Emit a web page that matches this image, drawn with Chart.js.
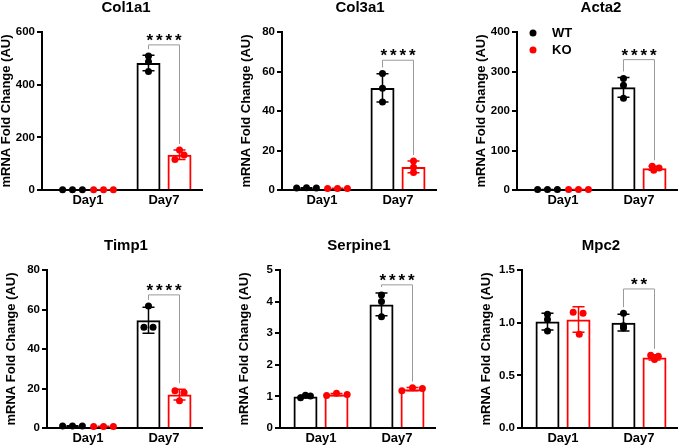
<!DOCTYPE html>
<html>
<head>
<meta charset="utf-8">
<script src="https://cdn.jsdelivr.net/npm/chart.js@4.4.0/dist/chart.umd.min.js"></script>
<style>
  html, body { margin: 0; padding: 0; background: #fff; overflow: hidden; }
  #wrap { position: relative; width: 682px; height: 448px; }
  #wrap canvas { position: absolute; }
</style>
</head>
<body>
<div id="wrap"></div>
<script>
// ---- data ----
const categories = ['Day1', 'Day7'];
const seriesNames = ['WT', 'KO'];
const genes = ['Col1a1', 'Col3a1', 'Acta2', 'Timp1', 'Serpine1', 'Mpc2'];
const yMax = [600, 80, 400, 80, 5, 1.5];
const yStep = [200, 20, 100, 20, 1, 0.5];

// bar height (mean) and SD per gene, [Day1, Day7]
const wtMean = [[1, 482], [1.0, 51.7], [1, 260], [1.0, 54.6], [1.00, 3.91], [1.01, 1.00]];
const wtSd   = [[0.1, 29.6], [0.1, 7.2], [0.1, 25], [0.1, 6.6], [0.04, 0.36], [0.08, 0.08]];
const koMean = [[1, 134], [0.8, 11.7], [1, 55], [0.8, 16.9], [1.06, 1.23], [1.03, 0.67]];
const koSd   = [[0.1, 18], [0.1, 3.0], [0.1, 5], [0.1, 2.7], [0.035, 0.05], [0.12, 0.025]];

// replicates, [Day1, Day7]
const wtPoints = [
  [[1, 1, 1], [509, 487, 450]],
  [[1.0, 1.1, 1.0], [59, 51.5, 44.6]],
  [[1, 1, 1], [282, 265, 232]],
  [[1.0, 1.0, 1.0], [61.8, 51.0, 51.0]],
  [[0.96, 1.04, 1.01], [4.21, 4.0, 3.52]],
  [[1.08, 1.03, 0.92], [1.09, 0.97, 0.95]]
];
const koPoints = [
  [[1, 1, 1], [152, 133, 116]],
  [[0.7, 0.8, 0.8], [14.7, 11.5, 8.8]],
  [[1, 1, 1], [60, 56, 50]],
  [[0.8, 0.8, 0.8], [18.9, 18.0, 13.8]],
  [[1.03, 1.10, 1.06], [1.18, 1.27, 1.25]],
  [[1.10, 1.09, 0.89], [0.69, 0.68, 0.65]]
];
const sigText = ['****', '****', '****', '****', '****', '**'];
const sigLevel = [551, 65.7, 330, 67.4, 4.53, 1.32];

// ---- layout ----
const FONT = "'Liberation Sans', Arial, sans-serif";
const RED = '#ff0000';
const axisLeft = [42, 282, 517, 47, 280, 522];
const day1Px = [88, 322, 563, 88, 321, 563];
const rowTop = [0, 0, 0, 238, 238, 238];
const UNIT = 76, AREA_TOP = 32, AREA_H = 158, XAXIS_H = 30, YAXIS_W = 43, PAD_R = 4;
const catPct = 0.816, barPct = 0.774;
// horizontal spread of the dots (x units), [Day1, Day7]
const wtJitter = [
  [[-0.13, 0, 0.13], [0, 0, 0]],
  [[-0.13, 0, 0.13], [0, 0, 0]],
  [[-0.13, 0, 0.13], [0, 0, 0]],
  [[-0.13, 0, 0.13], [0, -0.06, 0.06]],
  [[-0.065, 0, 0.065], [0, 0, 0]],
  [[0, 0, 0], [0, 0, 0]]
];
const koJitter = [
  [[-0.13, 0, 0.13], [0, 0.06, -0.06]],
  [[-0.13, 0, 0.13], [0, 0, 0]],
  [[-0.13, 0, 0.13], [-0.03, 0.06, -0.01]],
  [[-0.13, 0, 0.13], [-0.06, 0.06, 0]],
  [[-0.13, 0, 0.14], [-0.14, 0, 0.13]],
  [[-0.07, 0.06, 0.01], [-0.05, 0.05, 0]]
];

Chart.defaults.font.family = FONT;
Chart.defaults.color = '#000';

function scatterSet(label, pts, jit, sign, color) {
  const data = [];
  categories.forEach(function(c, d) {
    pts[d].forEach(function(v, k) {
      data.push({ x: d + sign * catPct / 4 + jit[d][k], y: v });
    });
  });
  return { type: 'scatter', label: label, data: data, backgroundColor: color, borderWidth: 0,
           pointRadius: 3.5, clip: false, order: 1 };
}

function extrasPlugin(p) {
  return {
    id: 'extras' + p,
    afterDraw: function(chart) {
      const ctx = chart.ctx, area = chart.chartArea;
      const xs = chart.scales.x, ys = chart.scales.y;
      ctx.save();
      // title
      ctx.fillStyle = '#000';
      ctx.font = 'bold 15px ' + FONT;
      ctx.textAlign = 'center';
      ctx.textBaseline = 'middle';
      ctx.fillText(genes[p], (xs.getPixelForValue(0) + xs.getPixelForValue(1)) / 2, area.top - 24);

      // error bars
      [[0, wtMean, wtSd, '#000'], [1, koMean, koSd, RED]].forEach(function(e) {
        const meta = chart.getDatasetMeta(e[0]);
        meta.data.forEach(function(bar, d) {
          const m = e[1][p][d], s = e[2][p][d];
          const t = ys.getPixelForValue(m + s), b = ys.getPixelForValue(m - s);
          ctx.strokeStyle = e[3];
          ctx.lineWidth = 1.5;
          ctx.beginPath();
          ctx.moveTo(bar.x, t); ctx.lineTo(bar.x, b);
          ctx.moveTo(bar.x - 6, t); ctx.lineTo(bar.x + 6, t);
          ctx.moveTo(bar.x - 6, b); ctx.lineTo(bar.x + 6, b);
          ctx.stroke();
        });
      });

      // significance bracket on Day7
      const wb = chart.getDatasetMeta(0).data[1], kb = chart.getDatasetMeta(1).data[1];
      const yb = ys.getPixelForValue(sigLevel[p]);
      const wTop = Math.max(wtMean[p][1] + wtSd[p][1], Math.max.apply(null, wtPoints[p][1]));
      const kTop = Math.max(koMean[p][1] + koSd[p][1], Math.max.apply(null, koPoints[p][1]));
      const yl = ys.getPixelForValue(wTop) - 6;
      const yr = ys.getPixelForValue(kTop) - 6;
      ctx.strokeStyle = '#9a9a9a';
      ctx.lineWidth = 1;
      ctx.beginPath();
      ctx.moveTo(wb.x, yl); ctx.lineTo(wb.x, yb); ctx.lineTo(kb.x, yb); ctx.lineTo(kb.x, yr);
      ctx.stroke();
      ctx.fillStyle = '#000';
      ctx.font = 'bold 17px ' + FONT;
      ctx.textBaseline = 'alphabetic';
      const n = sigText[p].length, cx = (wb.x + kb.x) / 2;
      for (let i = 0; i < n; i++) {
        ctx.fillText(sigText[p][i], cx + (i - (n - 1) / 2) * 9.5, yb + 1);
      }

      // legend only on Acta2
      if (p === 2) {
        ctx.font = 'bold 13px ' + FONT;
        ctx.textAlign = 'left';
        ctx.textBaseline = 'middle';
        [[seriesNames[0], '#000', 1], [seriesNames[1], RED, 18]].forEach(function(l) {
          ctx.fillStyle = l[1];
          ctx.beginPath();
          ctx.arc(area.left + 16, area.top + l[2], 3.5, 0, Math.PI * 2);
          ctx.fill();
          ctx.fillStyle = '#000';
          ctx.fillText(l[0], area.left + 35, area.top + l[2]);
        });
      }
      ctx.restore();
    }
  };
}

const wrap = document.getElementById('wrap');
genes.forEach(function(gene, p) {
  const xMin = -(day1Px[p] - axisLeft[p]) / UNIT, xMax = 1.5;
  const areaW = (xMax - xMin) * UNIT;
  const canvas = document.createElement('canvas');
  const w = Math.round(YAXIS_W + areaW + PAD_R), h = AREA_TOP + AREA_H + XAXIS_H;
  canvas.width = w; canvas.height = h;
  canvas.style.left = (axisLeft[p] - YAXIS_W) + 'px';
  canvas.style.top = rowTop[p] + 'px';
  canvas.style.width = w + 'px'; canvas.style.height = h + 'px';
  wrap.appendChild(canvas);

  new Chart(canvas.getContext('2d'), {
    type: 'bar',
    data: {
      datasets: [
        { label: seriesNames[0], data: categories.map(function(c, d) { return { x: d, y: wtMean[p][d] }; }),
          backgroundColor: 'rgba(255,255,255,0)', borderColor: '#000', borderWidth: 2,
          categoryPercentage: catPct, barPercentage: barPct, order: 2 },
        { label: seriesNames[1], data: categories.map(function(c, d) { return { x: d, y: koMean[p][d] }; }),
          backgroundColor: 'rgba(255,255,255,0)', borderColor: RED, borderWidth: 2,
          categoryPercentage: catPct, barPercentage: barPct, order: 2 },
        scatterSet(seriesNames[0], wtPoints[p], wtJitter[p], -1, '#000'),
        scatterSet(seriesNames[1], koPoints[p], koJitter[p], 1, RED)
      ]
    },
    options: {
      responsive: false,
      devicePixelRatio: 1,
      animation: false,
      events: [],
      layout: { padding: { top: AREA_TOP, left: 0, right: PAD_R, bottom: 0 } },
      plugins: { legend: { display: false }, tooltip: { enabled: false } },
      scales: {
        x: {
          type: 'linear', min: xMin, max: xMax, offset: false,
          grid: { display: false, drawTicks: false },
          border: { display: true, color: '#000', width: 2 },
          afterBuildTicks: function(s) { s.ticks = categories.map(function(c, i) { return { value: i }; }); },
          ticks: { callback: function(v) { return categories[v]; }, color: '#000', padding: 3,
                   maxRotation: 0, autoSkip: false, font: { size: 13, weight: 'bold' } },
          afterFit: function(s) { s.height = XAXIS_H; }
        },
        y: {
          min: 0, max: yMax[p],
          ticks: { stepSize: yStep[p], color: '#000', padding: 2, font: { size: 11.5, weight: 'bold' },
                   callback: function(v) { return yStep[p] < 1 ? v.toFixed(1) : v; } },
          grid: { display: true, drawOnChartArea: false, drawTicks: true, tickLength: 5, color: '#000', lineWidth: 2 },
          border: { display: true, color: '#000', width: 2 },
          title: { display: true, text: 'mRNA Fold Change (AU)', color: '#000', padding: 0,
                   font: { size: 13, weight: 'bold' } },
          afterFit: function(s) { s.width = YAXIS_W; }
        }
      }
    },
    plugins: [extrasPlugin(p)]
  });
});
</script>
</body>
</html>
